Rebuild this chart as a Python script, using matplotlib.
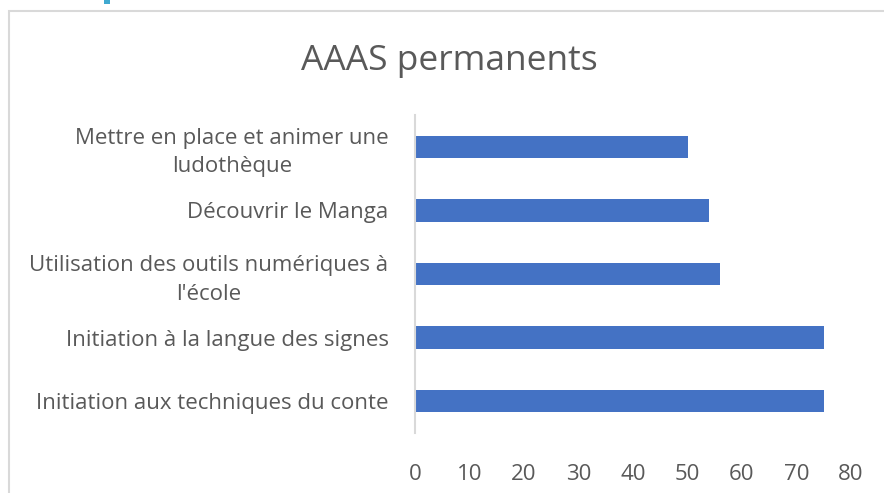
import matplotlib.pyplot as plt
from matplotlib.patches import Rectangle

# data, bottom to top as drawn
labels = [
    "Initiation aux techniques du conte",
    "Initiation à la langue des signes",
    "Utilisation des outils numériques à\nl'école",
    "Découvrir le Manga",
    "Mettre en place et animer une\nludothèque",
]
values = [75, 75, 56, 54, 50]
xticks = [0, 10, 20, 30, 40, 50, 60, 70, 80]

plt.rcParams['font.family'] = ['Open Sans', 'DejaVu Sans']

fig = plt.figure(figsize=(8.84, 4.93), dpi=100)
ax = fig.add_axes([415 / 884, 1 - 433 / 493, 436 / 884, 318 / 493])

ax.barh(range(len(values)), values, height=0.35, color="#4472c4")
ax.set_xlim(0, 80)
ax.set_ylim(-0.5, len(values) - 0.5)
ax.set_xticks(xticks)
ax.set_yticks(range(len(labels)))
ax.set_yticklabels(labels)
for t in ax.get_yticklabels():
    t.set_multialignment('center')
    t.set_linespacing(1.45)

ax.tick_params(axis='both', length=0, labelsize=16, labelcolor="#595959")
ax.tick_params(axis='y', pad=19)
ax.tick_params(axis='x', pad=22)

for s in ['top', 'right', 'bottom']:
    ax.spines[s].set_visible(False)
ax.spines['left'].set_color("#d9d9d9")
ax.spines['left'].set_linewidth(1.5)

fig.text(0.508, 1 - 61 / 493, "AAAS permanents", ha='center', va='center',
         fontsize=25.5, color="#595959")

# chart frame and the cut-off heading mark above it
fig.patches.append(Rectangle((8.5 / 884, -0.1), 1.2, 1.1 - 11.5 / 493,
                             transform=fig.transFigure, fill=False,
                             edgecolor="#d9d9d9", linewidth=1.5))
fig.patches.append(Rectangle((104 / 884, 1 - 4 / 493), 6 / 884, 4 / 493,
                             transform=fig.transFigure, color="#3fa9d0",
                             linewidth=0))

fig.savefig("out.png", dpi=100)
